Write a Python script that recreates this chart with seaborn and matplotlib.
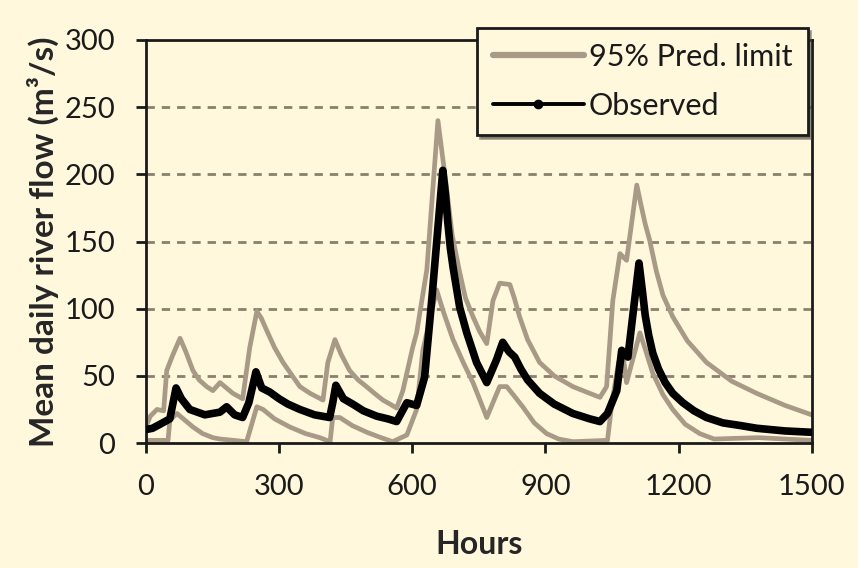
import matplotlib
matplotlib.use("Agg")
import matplotlib.pyplot as plt
from matplotlib.lines import Line2D
import seaborn as sns
import pandas as pd

obs_hours = [0, 15, 32, 54, 68, 80, 99, 133, 167, 182, 200, 218, 232, 248, 261, 279,
             300, 320, 347, 380, 414, 421, 428, 445, 466, 490, 520, 545, 565, 588, 610,
             628, 645, 669, 675, 680, 686, 692, 707, 723, 745, 768, 790, 804, 818, 831,
             845, 860, 887, 920, 962, 1000, 1023, 1040, 1061, 1072, 1086, 1111, 1118,
             1125, 1133, 1142, 1155, 1170, 1187, 1210, 1235, 1263, 1300, 1340, 1376,
             1440, 1500]
obs_flow = [10, 11, 14, 18, 41, 33, 25, 21, 23, 27, 21, 19, 30, 53, 41, 38,
            33, 29, 25, 21, 19, 30, 43, 33, 29, 24, 20, 18, 16, 30, 28,
            49, 110, 203, 185, 165, 145, 131, 101, 82, 60, 45, 62, 75, 68, 64,
            55, 47, 37, 29, 22, 18, 16, 22, 39, 69, 64, 134, 115,
            95, 80, 67, 55, 45, 37, 30, 24, 19, 15, 13, 11,
            9, 8]

# 95% 预测区间上限
up_hours = [0, 10, 25, 40, 47, 60, 77, 90, 106, 120, 137, 151, 167, 196, 218, 234,
            250, 260, 272, 290, 309, 330, 347, 370, 399, 410, 426, 440, 459, 478, 497,
            515, 534, 550, 565, 579, 601, 610, 633, 658, 665, 677, 690, 707, 720, 737,
            752, 768, 782, 797, 820, 830, 842, 860, 887, 920, 962, 1000, 1023, 1038,
            1052, 1068, 1083, 1106, 1115, 1125, 1135, 1150, 1165, 1187, 1220, 1263,
            1320, 1376, 1440, 1500]
up_flow = [12, 20, 25, 24, 54, 65, 78, 68, 54, 47, 42, 39, 45, 37, 33, 71,
           98, 93, 84, 71, 60, 50, 42, 37, 32, 60, 77, 66, 54, 47, 42,
           37, 32, 29, 26, 39, 71, 82, 129, 240, 222, 191, 155, 127, 108, 94,
           83, 74, 106, 119, 118, 108, 94, 77, 60, 50, 42, 37, 34, 42,
           106, 141, 136, 192, 178, 163, 151, 128, 110, 94, 76, 60,
           46, 37, 28, 21]

# 95% 预测区间下限
lo_hours = [0, 50, 54, 70, 88, 106, 128, 151, 167, 227, 250, 264, 290, 324, 360, 392,
            415, 421, 437, 465, 498, 530, 556, 588, 610, 624, 655, 670, 692, 715, 737,
            755, 768, 797, 813, 830, 849, 875, 903, 930, 962, 1040, 1050, 1065, 1075,
            1083, 1113, 1125, 1142, 1165, 1187, 1215, 1248, 1280, 1380, 1500]
lo_flow = [2, 2, 17, 22, 17, 12, 7, 4, 3, 1, 27, 25, 18, 12, 7, 4,
           1, 19, 19, 13, 8, 4, 1, 6, 25, 69, 114, 98, 77, 60, 45,
           30, 19, 42, 42, 35, 27, 15, 7, 3, 1, 2, 30, 60, 65,
           45, 82, 70, 52, 36, 25, 14, 7, 3, 4, 2]

x_ticks = [0, 300, 600, 900, 1200, 1500]
y_ticks = [0, 50, 100, 150, 200, 250, 300]

BG = "#FFF8DC"
GRAY = "#A89A86"

sns.set_style("ticks")
plt.rcParams["font.family"] = ["Lato", "DejaVu Sans"]
plt.rcParams["text.color"] = "#1a1a1a"

fig = plt.figure(figsize=(8.58, 5.68), dpi=100, facecolor=BG)
ax = fig.add_axes([0.170, 0.220, 0.776, 0.7096])
ax.set_facecolor(BG)

for y in y_ticks[1:-1]:
    ax.axhline(y, color="#8C7F6E", linestyle=(0, (3, 2.5)), linewidth=2, zorder=1)

up_df = pd.DataFrame({"Hours": up_hours, "Flow": up_flow})
lo_df = pd.DataFrame({"Hours": lo_hours, "Flow": lo_flow})
obs_df = pd.DataFrame({"Hours": obs_hours, "Flow": obs_flow})

sns.lineplot(data=up_df, x="Hours", y="Flow", ax=ax, color=GRAY, linewidth=3.4,
             estimator=None, sort=False, zorder=2)
sns.lineplot(data=lo_df, x="Hours", y="Flow", ax=ax, color=GRAY, linewidth=3.4,
             estimator=None, sort=False, zorder=2)
sns.lineplot(data=obs_df, x="Hours", y="Flow", ax=ax, color="black", linewidth=5.5,
             estimator=None, sort=False, zorder=3, solid_capstyle="round",
             solid_joinstyle="round")

ax.set_xlim(0, 1500)
ax.set_ylim(0, 300)
ax.set_xticks(x_ticks)
ax.set_yticks(y_ticks)
ax.tick_params(axis="both", direction="out", length=7, width=2, labelsize=21,
               colors="#1a1a1a")
ax.tick_params(axis="y", pad=15)
ax.tick_params(axis="x", pad=15)
for s in ax.spines.values():
    s.set_visible(True)
    s.set_linewidth(2)
    s.set_color("#1a1a1a")

ax.set_xlabel("Hours", fontsize=23, fontweight="bold", labelpad=22)
ax.set_ylabel("Mean daily river flow (m³/s)", fontsize=24, fontweight="bold", labelpad=4)

handles = [
    Line2D([], [], color=GRAY, linewidth=4.5),
    Line2D([], [], color="black", linewidth=2.8, marker="o", markersize=6),
]
leg = ax.legend(handles, ["95% Pred. limit", "Observed"], loc="upper right",
                bbox_to_anchor=(0.994, 1.03), fontsize=22, frameon=True,
                fancybox=False, shadow=True, framealpha=1, handlelength=3.0,
                handletextpad=0.15, borderpad=0.5, labelspacing=0.68,
                borderaxespad=0)
leg.get_frame().set_facecolor(BG)
leg.get_frame().set_edgecolor("#1a1a1a")
leg.get_frame().set_linewidth(2)
leg.set_zorder(5)

fig.savefig("out.png", dpi=100, facecolor=BG)
